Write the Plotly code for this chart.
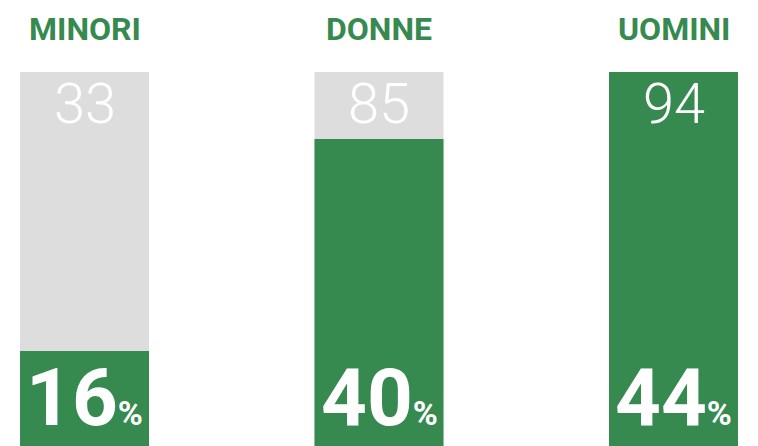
import plotly.graph_objects as go

categories = ["MINORI", "DONNE", "UOMINI"]
counts = [33, 85, 94]
percents = [16, 40, 44]
# green fill height, as % of the full grey column
fill = [25.4, 82.1, 100]
full = [100, 100, 100]

GREEN = "#378A4F"
GREY = "#DDDDDD"
FONT = "Roboto, DejaVu Sans Condensed, sans-serif"

xs = list(range(len(categories)))

fig = go.Figure()
fig.add_trace(go.Bar(x=xs, y=full, marker=dict(color=GREY, line=dict(width=0)),
                     width=0.438, hoverinfo="skip"))
fig.add_trace(go.Bar(x=xs, y=fill, marker=dict(color=GREEN, line=dict(width=0)),
                     width=0.438, hoverinfo="skip"))

for i, cat in enumerate(categories):
    fig.add_annotation(x=xs[i], y=1.115, xref="x", yref="paper", text=f"<b>{cat}</b>",
                       showarrow=False, yanchor="middle", xanchor="center",
                       font=dict(family=FONT, size=32, color=GREEN))
    fig.add_annotation(x=xs[i], y=91.4, xref="x", yref="y", text=str(counts[i]),
                       showarrow=False, yanchor="middle", xanchor="center",
                       font=dict(family=FONT, size=56, color="white", weight=300))
    fig.add_annotation(x=xs[i], y=12.8, xref="x", yref="y",
                       text=f"<b>{percents[i]}</b><b><span style='font-size:34px'>%</span></b>",
                       showarrow=False, yanchor="middle", xanchor="center",
                       font=dict(family=FONT, size=80, color="white"))

# the page body has an 8px margin, so the figure is 8px smaller each way
fig.update_layout(
    width=750, height=438,
    margin=dict(l=0, r=0, t=64, b=0),
    paper_bgcolor="white", plot_bgcolor="white",
    barmode="overlay", showlegend=False,
    xaxis=dict(range=[-0.2598, 2.2869], visible=False, fixedrange=True),
    yaxis=dict(range=[0, 100], visible=False, fixedrange=True),
)

fig.write_html("out.html", config={"displayModeBar": False})
